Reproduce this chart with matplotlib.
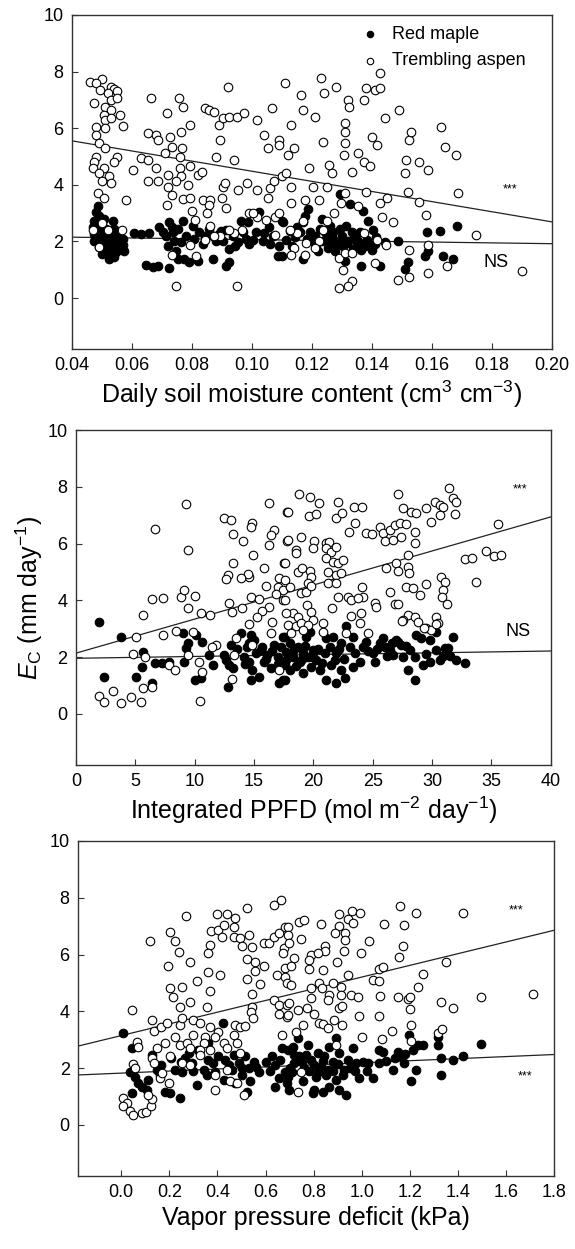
import numpy as np
import matplotlib
matplotlib.use("Agg")
import matplotlib.pyplot as plt

plt.rcParams['font.family'] = ['Liberation Sans', 'DejaVu Sans']
plt.rcParams['mathtext.fontset'] = 'custom'
plt.rcParams['mathtext.rm'] = 'Liberation Sans'
plt.rcParams['mathtext.it'] = 'Liberation Sans:italic'

# ---- panel 1: daily soil moisture content ----
sm_aspen = [
    (0.046, 7.65), (0.050, 7.73), (0.048, 7.6), (0.053, 7.47), (0.054, 7.4), (0.055, 7.3), (0.052, 7.24),
    (0.0495, 7.35), (0.053, 7.0), (0.055, 7.06), (0.0475, 6.88), (0.051, 6.76), (0.053, 6.65), (0.056, 6.47),
    (0.0507, 6.47), (0.051, 6.3), (0.053, 6.35), (0.057, 6.08), (0.048, 6.03), (0.051, 6.0), (0.048, 5.76),
    (0.049, 5.47), (0.051, 5.3), (0.055, 5.0), (0.048, 5.0), (0.0474, 4.82), (0.047, 4.59), (0.0507, 4.59),
    (0.049, 4.4), (0.0525, 4.3), (0.050, 4.12), (0.053, 4.06), (0.0486, 3.7), (0.0507, 3.53), (0.058, 3.47),
    (0.054, 4.82),
    (0.063, 4.94), (0.0605, 4.53), (0.0655, 4.88), (0.0655, 5.82), (0.068, 5.76), (0.0688, 5.59), (0.0655, 4.12),
    (0.068, 4.59), (0.0688, 4.12), (0.0665, 7.06), (0.0716, 6.53), (0.0728, 5.7), (0.071, 5.12), (0.0734, 5.35),
    (0.072, 4.35), (0.072, 3.94), (0.0734, 3.65), (0.0716, 3.3), (0.0758, 7.06), (0.077, 6.76), (0.0764, 5.88),
    (0.0767, 5.3), (0.076, 5.0), (0.076, 4.59), (0.0765, 4.3), (0.077, 3.5), (0.0747, 4.12), (0.0747, 0.43),
    (0.0795, 6.12), (0.0795, 4.65), (0.0788, 4.0), (0.0795, 3.53), (0.08, 3.06), (0.081, 2.76), (0.082, 4.35),
    (0.0832, 4.47), (0.0838, 3.47), (0.0845, 6.7), (0.0857, 6.65), (0.0875, 6.59), (0.086, 3.47), (0.0857, 3.3),
    (0.085, 3.0), (0.088, 5.0), (0.089, 6.12), (0.0895, 5.59), (0.09, 3.53), (0.092, 7.47), (0.0905, 6.35),
    (0.0925, 6.41), (0.0905, 3.94), (0.0912, 3.18), (0.091, 4.08), (0.095, 6.41), (0.094, 4.88), (0.0955, 3.82),
    (0.095, 0.43), (0.0975, 6.53), (0.0985, 4.06), (0.099, 3.0),
    (0.1017, 6.29), (0.1017, 3.82), (0.104, 5.76), (0.1052, 5.3), (0.1055, 3.53), (0.1067, 6.7), (0.106, 3.88),
    (0.1072, 4.12), (0.109, 5.59), (0.109, 5.41), (0.110, 4.3), (0.1109, 7.59), (0.1115, 4.41), (0.112, 5.06),
    (0.113, 6.12), (0.113, 3.94), (0.1139, 5.3), (0.113, 3.35), (0.1164, 7.18), (0.117, 6.65), (0.1177, 3.47),
    (0.119, 4.59), (0.1203, 3.94), (0.121, 6.41), (0.1223, 3.47), (0.123, 7.76), (0.1238, 5.5), (0.124, 7.24),
    (0.125, 3.94), (0.1256, 4.7), (0.1268, 4.41), (0.128, 7.47), (0.131, 6.18), (0.131, 5.88), (0.131, 5.47),
    (0.1308, 5.06), (0.132, 7.0), (0.1325, 6.76), (0.1335, 4.47), (0.1354, 5.12), (0.1373, 7.0), (0.138, 7.41),
    (0.1373, 4.82), (0.138, 3.76), (0.1392, 4.65), (0.14, 5.7), (0.141, 7.35), (0.1416, 5.41), (0.1428, 7.41),
    (0.1428, 7.94), (0.1445, 6.35), (0.1428, 3.35), (0.145, 3.53),
    (0.149, 6.65), (0.151, 4.41), (0.1515, 4.88), (0.152, 3.76), (0.1523, 5.59), (0.153, 5.88), (0.1556, 4.82),
    (0.1556, 3.41), (0.1588, 4.53), (0.158, 2.94), (0.163, 6.06), (0.1644, 5.35), (0.168, 5.06), (0.1686, 3.71),
    (0.1748, 2.24), (0.190, 0.94), (0.1523, 1.71), (0.1523, 0.76), (0.1487, 0.65), (0.1588, 1.88), (0.1588, 0.9),
    (0.165, 1.12),
    (0.1333, 0.59), (0.132, 0.43), (0.129, 0.35), (0.1305, 1.0), (0.129, 1.41), (0.131, 1.59), (0.1335, 1.59),
    (0.141, 1.24), (0.1373, 2.29), (0.1416, 2.06), (0.1447, 1.88), (0.1435, 2.88), (0.147, 2.67), (0.1354, 3.24),
    (0.131, 3.71), (0.1297, 3.35), (0.1275, 3.0), (0.125, 2.71), (0.1238, 2.41), (0.1225, 2.0), (0.121, 1.76),
    (0.118, 1.94), (0.1177, 1.53), (0.117, 2.71), (0.115, 2.29), (0.1139, 1.76), (0.113, 1.53), (0.1127, 2.41),
    (0.1077, 2.24), (0.1077, 2.88), (0.109, 3.0), (0.1047, 2.76), (0.1017, 2.88), (0.1004, 3.0), (0.0967, 2.41),
    (0.094, 2.29), (0.0925, 2.41), (0.0895, 2.18), (0.0875, 2.18), (0.086, 2.53), (0.0845, 2.06), (0.0815, 1.47),
    (0.0795, 1.88), (0.0734, 1.53), (0.0568, 2.41), (0.052, 2.41), (0.050, 2.65), (0.049, 1.82), (0.047, 2.41),
]
sm_maple = [
    (0.0486, 3.26), (0.048, 3.03), (0.0491, 2.91), (0.0474, 2.73), (0.0508, 2.79), (0.0536, 2.73), (0.0469, 2.5),
    (0.0491, 2.56), (0.0513, 2.44), (0.0541, 2.44), (0.0474, 2.26), (0.0497, 2.2), (0.0524, 2.26), (0.0474, 2.03),
    (0.0497, 1.97), (0.0519, 2.03), (0.0547, 2.03), (0.0569, 2.08), (0.0491, 1.79), (0.0513, 1.73), (0.0536, 1.85),
    (0.0558, 1.79), (0.0574, 1.67), (0.0502, 1.55), (0.0524, 1.5), (0.0547, 1.61), (0.0524, 1.38), (0.0541, 1.44),
    (0.0502, 2.35), (0.0528, 2.0), (0.0552, 2.15), (0.0515, 1.9), (0.0535, 1.6), (0.057, 1.88),
    (0.0608, 2.3), (0.063, 2.26), (0.0658, 2.3), (0.0647, 1.17), (0.0669, 1.08), (0.0686, 1.14), (0.0691, 2.5),
    (0.0724, 2.67), (0.0713, 2.2), (0.0719, 1.85), (0.0736, 2.32), (0.0741, 2.03), (0.0747, 1.67), (0.0763, 1.97),
    (0.0769, 2.73), (0.0752, 1.38), (0.0724, 1.05), (0.0774, 1.38), (0.0791, 1.26), (0.0802, 2.56), (0.0808, 2.08),
    (0.0824, 2.32), (0.0819, 1.32), (0.0836, 1.91), (0.0858, 2.44), (0.0869, 2.2), (0.0869, 1.38), (0.088, 2.03),
    (0.0897, 2.38), (0.0902, 2.03), (0.0913, 1.14), (0.0924, 1.26), (0.0924, 1.73), (0.0936, 2.2), (0.0952, 1.97),
    (0.0963, 2.73), (0.0969, 2.32), (0.0986, 2.67), (0.0991, 1.91), (0.1013, 2.32), (0.1024, 3.03), (0.1036, 2.03),
    (0.1058, 2.5), (0.1069, 2.2), (0.1086, 1.5), (0.1102, 2.67), (0.1091, 1.85),
    (0.078, 2.2), (0.0755, 2.45), (0.0845, 2.2), (0.089, 2.25), (0.0915, 2.4), (0.0945, 1.85), (0.098, 2.1),
    (0.1005, 2.05), (0.104, 2.3), (0.106, 1.9), (0.0735, 2.5), (0.0705, 2.35),
    (0.110, 2.73), (0.1099, 1.5), (0.1126, 2.38), (0.1149, 2.5), (0.1143, 2.14), (0.1171, 2.67), (0.1176, 2.91),
    (0.1171, 1.38), (0.1187, 3.14), (0.1193, 2.32), (0.1204, 2.03), (0.1215, 1.85), (0.1226, 2.44), (0.1232, 2.79),
    (0.1237, 2.03), (0.1249, 2.2), (0.126, 2.56), (0.1265, 1.91), (0.1271, 2.32), (0.1276, 1.67), (0.1293, 3.67),
    (0.1299, 2.2), (0.1304, 1.85), (0.1309, 1.32), (0.1315, 2.56), (0.1321, 2.03), (0.1326, 3.32), (0.1332, 2.32),
    (0.1337, 1.73), (0.1349, 1.91), (0.136, 2.32), (0.1365, 1.14), (0.1371, 3.09), (0.1376, 1.85), (0.1387, 2.73),
    (0.1393, 1.85), (0.1409, 1.91), (0.1426, 1.14), (0.1443, 1.97), (0.1488, 2.03), (0.1521, 1.26), (0.151, 1.02),
    (0.1576, 1.5), (0.1582, 2.32), (0.1587, 1.67), (0.1626, 2.38), (0.1637, 1.5), (0.1671, 1.38), (0.1682, 2.56),
    (0.121, 2.2), (0.1243, 2.35), (0.127, 2.1), (0.1295, 2.45), (0.1318, 1.95), (0.134, 2.15), (0.1355, 2.0),
    (0.1365, 1.7), (0.1383, 2.05), (0.140, 1.7), (0.1415, 2.15), (0.1402, 2.4), (0.1288, 1.95), (0.1255, 1.75),
    (0.122, 1.65), (0.1185, 2.1), (0.116, 2.35), (0.1135, 1.85), (0.1115, 2.05),
]

# ---- panel 2: integrated PPFD ----
ppfd_aspen = [
    (9.26, 7.39), (6.68, 6.5), (9.4, 5.77), (16.27, 7.44), (12.49, 6.89), (13.05, 6.83), (14.81, 6.71),
    (14.73, 6.6), (16.7, 6.48), (16.41, 6.3), (13.19, 6.34), (14.09, 6.1), (16.27, 5.95), (17.82, 7.1),
    (17.82, 6.09), (14.93, 5.6), (13.19, 5.31), (15.85, 5.15), (17.54, 5.33), (12.77, 4.89), (12.63, 4.74),
    (14.59, 4.84), (14.51, 4.92), (13.89, 4.78), (16.0, 4.51), (17.12, 4.78), (16.98, 4.48), (17.4, 4.37),
    (16.84, 4.21), (14.73, 4.13), (15.43, 4.04), (14.03, 3.72), (16.27, 3.78), (17.4, 4.01), (15.66, 3.64),
    (15.29, 3.43), (16.55, 3.25), (14.59, 3.17), (16.41, 2.86), (12.91, 3.9), (13.13, 3.6), (6.45, 4.04),
    (7.3, 4.07), (8.84, 4.13), (9.12, 4.37), (10.04, 4.15), (9.48, 3.72), (10.52, 3.57), (11.28, 3.49),
    (5.67, 3.49), (5.05, 2.72), (7.35, 2.78), (8.42, 2.93), (9.88, 2.9), (11.78, 2.43), (11.5, 2.37),
    (4.83, 2.11), (5.84, 2.02), (7.8, 1.73), (8.36, 1.55), (10.38, 1.84), (9.4, 2.08), (10.66, 1.47),
    (13.13, 1.22), (14.81, 2.43), (13.33, 2.08), (13.47, 2.66), (1.91, 0.63), (2.33, 0.43), (3.09, 0.79),
    (3.79, 0.38), (4.63, 0.61), (5.47, 0.43), (5.67, 0.9), (6.4, 0.96), (10.44, 0.47), (17.12, 1.55),
    (18.8, 7.75), (19.75, 7.65), (20.48, 7.44), (22.08, 7.46), (23.4, 7.3), (24.13, 7.28), (17.87, 7.1),
    (19.64, 6.97), (20.26, 7.03), (21.94, 6.89), (22.44, 7.07), (23.48, 6.74), (23.0, 6.42), (24.46, 6.36),
    (24.97, 6.34), (25.59, 6.57), (25.87, 6.36), (26.43, 6.48), (26.01, 6.1), (26.71, 6.13), (27.13, 7.75),
    (26.85, 6.65), (27.27, 6.71), (27.41, 6.24), (27.83, 6.69), (27.55, 7.24), (28.25, 7.1), (28.67, 7.07),
    (28.53, 6.42), (28.53, 6.01), (29.46, 7.24), (29.94, 6.77), (30.22, 7.48), (30.64, 7.36), (30.92, 7.3),
    (30.69, 7.0), (31.4, 7.95), (31.76, 7.59), (31.98, 7.48), (31.9, 7.03), (27.97, 5.6), (26.99, 5.31),
    (27.13, 5.05), (27.97, 5.16), (28.06, 4.98), (26.15, 5.13), (29.52, 4.58), (27.78, 4.48), (28.39, 4.42),
    (28.95, 4.19), (30.78, 4.84), (31.06, 4.66), (30.92, 4.37), (30.86, 4.13), (31.28, 3.87), (26.43, 4.31),
    (26.85, 3.87), (27.13, 3.87), (27.97, 3.49), (28.53, 3.4), (27.55, 3.31), (28.81, 3.25), (29.52, 3.02),
    (30.36, 3.4), (30.5, 3.19), (29.94, 2.96), (35.55, 6.69), (34.51, 5.74), (35.18, 5.56), (35.83, 5.6),
    (32.74, 5.45), (33.39, 5.5), (33.72, 4.64), (17.87, 6.13), (18.99, 6.24), (18.57, 5.77), (18.52, 5.66),
    (20.03, 6.1), (19.97, 5.83), (21.1, 6.03), (21.32, 6.07), (21.04, 5.83), (21.52, 5.72), (21.94, 5.89),
    (21.1, 5.48), (21.66, 5.36), (22.08, 5.31), (22.5, 5.42), (17.59, 5.33), (18.71, 5.01), (19.69, 5.05),
    (19.0, 5.13), (19.83, 4.84), (21.24, 5.01), (21.94, 4.89), (22.36, 4.95), (17.59, 4.72), (18.01, 4.48),
    (18.99, 4.25), (19.41, 4.31), (19.55, 4.6), (19.83, 4.51), (21.24, 4.6), (21.94, 4.6), (17.59, 4.01),
    (22.08, 4.13), (22.92, 4.13), (23.2, 4.01), (24.13, 4.48), (24.18, 4.11), (23.76, 4.07), (25.17, 3.9),
    (25.31, 3.78), (21.6, 3.74), (19.47, 3.84), (19.83, 3.6), (18.29, 3.57), (17.73, 3.54), (18.71, 3.43),
    (19.97, 3.31), (17.87, 3.13), (18.57, 3.08), (18.99, 3.19), (19.55, 3.13), (20.82, 3.19), (23.2, 3.45),
    (24.04, 3.54), (23.96, 3.19), (24.6, 2.86), (22.78, 2.84), (20.82, 2.9), (19.13, 2.96), (18.15, 2.84),
    (27.5, 3.27), (29.29, 3.02), (30.36, 3.17),
]
ppfd_maple = [
    (1.91, 3.25), (3.79, 2.72), (2.39, 1.31), (5.05, 1.31), (6.45, 1.08), (5.61, 2.19), (5.56, 1.67),
    (6.68, 1.81), (7.24, 1.81), (7.86, 1.84), (9.12, 1.84), (8.98, 2.84), (9.4, 2.49), (9.26, 2.31),
    (10.1, 2.78), (10.66, 2.55), (10.04, 1.2), (10.52, 1.26), (11.22, 2.08), (11.56, 1.73), (12.63, 1.9),
    (12.49, 2.08), (12.91, 1.73), (12.77, 0.96), (13.05, 2.43), (13.19, 1.61), (13.89, 2.84), (14.17, 2.02),
    (14.45, 2.37), (14.59, 1.84), (14.73, 2.78), (14.81, 1.55), (15.15, 2.14), (15.43, 1.31), (15.71, 2.37),
    (15.85, 1.84), (16.13, 2.08), (16.41, 1.61), (16.69, 2.43), (16.98, 2.02), (17.12, 1.08), (17.4, 1.2),
    (17.4, 2.72), (17.68, 1.9), (14.73, 1.2), (14.59, 2.49),
    (17.59, 2.72), (18.01, 2.49), (17.73, 2.19), (18.29, 2.02), (17.59, 1.73), (18.01, 1.55), (17.59, 1.2),
    (18.71, 2.37), (18.85, 1.84), (19.13, 2.14), (19.41, 2.72), (19.69, 2.9), (19.55, 2.02), (19.83, 1.67),
    (19.97, 2.25), (20.26, 1.9), (20.54, 1.55), (19.13, 1.43), (21.1, 2.66), (21.38, 2.37), (21.66, 2.72),
    (21.52, 1.73), (21.94, 2.14), (22.36, 2.49), (21.1, 1.2), (21.94, 1.08), (22.64, 1.26), (22.36, 1.55),
    (22.78, 3.08), (23.34, 2.72), (23.48, 2.14), (23.9, 1.84), (23.34, 1.67), (24.18, 2.37), (24.46, 2.55),
    (25.03, 2.14), (25.17, 1.84), (25.59, 2.49), (25.87, 2.66), (26.01, 2.37), (26.43, 2.25), (26.71, 2.08),
    (27.13, 2.55), (27.41, 2.43), (27.55, 2.02), (27.97, 1.55), (28.53, 1.2), (28.11, 2.25), (28.53, 2.02),
    (28.67, 2.78), (29.1, 2.66), (29.23, 1.73), (29.8, 2.6), (29.8, 1.84), (30.36, 2.9), (30.36, 2.25),
    (30.64, 1.9), (31.06, 2.31), (31.34, 2.31), (31.76, 2.72), (32.04, 1.9), (32.74, 1.78), (26.99, 2.6),
    (15.6, 2.25), (16.0, 1.95), (16.5, 2.2), (17.0, 1.75), (17.3, 2.35), (18.3, 2.2), (18.5, 1.7),
    (19.0, 1.95), (19.3, 2.4), (20.0, 2.0), (20.4, 2.3), (20.7, 1.8), (21.0, 2.15), (21.8, 1.9),
    (22.2, 2.3), (22.6, 1.95), (23.1, 2.35), (24.6, 2.2), (25.4, 2.3), (26.2, 2.05), (26.6, 2.5),
    (27.8, 2.4), (29.5, 2.1), (30.9, 2.05), (31.5, 2.05), (14.2, 1.75), (13.6, 2.3), (15.0, 2.6),
]

# ---- panel 3: vapor pressure deficit ----
vpd_aspen = [
    (0.665, 7.92), (0.633, 7.75), (0.522, 7.63), (0.397, 7.43), (0.439, 7.43), (0.474, 7.28), (0.268, 7.36),
    (0.203, 6.81), (0.12, 6.49), (0.224, 6.46), (0.238, 6.1), (0.374, 6.84), (0.404, 6.86), (0.425, 7.04),
    (0.418, 6.63), (0.467, 6.98), (0.467, 6.61), (0.495, 6.57), (0.529, 6.69), (0.501, 6.3), (0.543, 6.26),
    (0.592, 6.4), (0.613, 6.4), (0.633, 6.63), (0.654, 6.75), (0.682, 6.98), (0.675, 6.22), (0.671, 6.07),
    (0.37, 6.34), (0.36, 6.07), (0.286, 5.75), (0.194, 5.58), (0.362, 5.4), (0.411, 5.28), (0.314, 5.08),
    (0.522, 5.83), (0.554, 5.75), (0.592, 5.6), (0.557, 5.43), (0.522, 5.13), (0.578, 4.96), (0.647, 5.28),
    (0.682, 5.54), (0.682, 5.22), (0.689, 4.99), (0.252, 4.87), (0.203, 4.81), (0.217, 4.52), (0.286, 4.34),
    (0.245, 4.17), (0.356, 4.17), (0.543, 4.61), (0.543, 4.17), (0.54, 3.96), (0.546, 3.76), (0.633, 4.4),
    (0.654, 4.23), (0.689, 4.23), (0.657, 3.91), (0.689, 3.81), (0.37, 4.73), (0.046, 4.05), (0.127, 3.7),
    (0.134, 3.32), (0.166, 3.46), (0.189, 3.58), (0.245, 3.52), (0.252, 3.76), (0.3, 3.7), (0.328, 3.6),
    (0.37, 3.44), (0.404, 3.29), (0.39, 3.11), (0.349, 3.11), (0.3, 3.17), (0.224, 3.11), (0.182, 2.88),
    (0.148, 2.7), (0.245, 2.82), (0.272, 2.88), (0.286, 2.7), (0.342, 2.88), (0.328, 2.64), (0.37, 2.64),
    (0.425, 2.88), (0.439, 2.7), (0.474, 3.52), (0.495, 3.46), (0.515, 3.49), (0.467, 3.17), (0.481, 2.88),
    (0.495, 2.52), (0.064, 2.93), (0.071, 2.73), (0.05, 2.15), (0.057, 2.0), (0.127, 2.35), (0.134, 2.17),
    (0.162, 1.64), (0.169, 1.82), (0.199, 1.47), (0.203, 2.41), (0.252, 2.17), (0.286, 2.11), (0.328, 2.46),
    (0.39, 1.76), (0.39, 1.23), (0.439, 1.94), (0.453, 1.53), (0.481, 1.47), (0.509, 1.06), (0.668, 3.17),
    (0.009, 0.94), (0.023, 0.76), (0.009, 0.65), (0.037, 0.5), (0.05, 0.35), (0.085, 0.43), (0.102, 0.47),
    (0.124, 0.65), (0.127, 0.9), (0.113, 1.06),
    (1.159, 7.71), (1.226, 7.48), (1.42, 7.45), (0.907, 7.43), (0.959, 7.55), (0.993, 7.45), (0.941, 7.24),
    (0.962, 7.12), (0.74, 7.16), (0.761, 7.22), (0.83, 7.07), (0.907, 7.01), (1.094, 7.08), (1.177, 7.04),
    (0.89, 6.75), (0.932, 6.77), (0.929, 6.51), (0.692, 6.98), (0.692, 6.69), (0.698, 6.4), (0.747, 6.54),
    (0.848, 6.3), (0.848, 6.14), (0.927, 6.14), (1.029, 6.49), (1.17, 6.3), (1.153, 5.93), (0.997, 6.04),
    (0.895, 5.72), (0.837, 5.46), (0.789, 5.99), (0.816, 6.07), (0.779, 5.81), (0.719, 5.87), (0.705, 5.6),
    (0.782, 5.48), (0.705, 4.93), (0.823, 4.99), (0.834, 4.81), (0.879, 4.99), (0.913, 4.87), (0.941, 5.28),
    (0.789, 4.81), (0.789, 4.46), (0.865, 4.58), (0.858, 4.4), (0.913, 4.58), (0.955, 4.58), (0.983, 4.52),
    (0.904, 4.11), (0.918, 4.19), (0.698, 4.28), (0.692, 3.87), (0.733, 4.05), (0.771, 4.11), (0.802, 3.91),
    (0.823, 3.6), (0.837, 3.56), (0.858, 3.4), (0.886, 3.7), (0.918, 3.52), (0.754, 3.52), (0.726, 3.29),
    (0.987, 3.84), (1.073, 3.84), (1.076, 4.54), (1.045, 5.11), (1.07, 5.08), (1.07, 5.48), (1.09, 5.55),
    (1.001, 3.11), (1.084, 3.02), (1.126, 3.32), (1.149, 4.52), (1.191, 4.42), (1.201, 4.5), (1.201, 4.07),
    (1.205, 3.52), (1.233, 4.85), (1.256, 5.32), (1.33, 4.34), (1.316, 3.25), (1.334, 3.37), (1.378, 4.11),
    (1.35, 5.72), (1.496, 4.52), (0.733, 1.17), (0.747, 1.88), (0.893, 2.82), (1.205, 2.97), (1.711, 4.62),
]
vpd_maple = [
    (0.009, 3.23), (0.046, 2.7), (0.037, 1.88), (0.057, 1.7), (0.071, 1.47), (0.085, 1.35), (0.106, 1.23),
    (0.044, 1.12), (0.127, 2.46), (0.148, 1.94), (0.166, 2.11), (0.182, 1.17), (0.203, 1.12), (0.245, 0.94),
    (0.207, 2.35), (0.224, 1.94), (0.252, 1.88), (0.266, 2.35), (0.28, 2.52), (0.293, 2.17), (0.314, 1.41),
    (0.321, 2.64), (0.342, 1.94), (0.356, 1.76), (0.362, 2.88), (0.383, 2.17), (0.39, 1.88), (0.404, 2.41),
    (0.422, 3.58), (0.425, 1.58), (0.446, 2.11), (0.467, 2.46), (0.474, 1.47), (0.488, 2.17), (0.501, 1.76),
    (0.515, 2.41), (0.529, 2.0), (0.536, 1.53), (0.55, 2.23), (0.571, 1.88), (0.522, 1.17), (0.626, 2.41),
    (0.64, 2.11), (0.654, 1.64), (0.668, 2.7), (0.682, 1.88), (0.689, 1.47), (0.64, 1.35),
    (0.692, 2.64), (0.692, 1.7), (0.698, 1.23), (0.719, 2.17), (0.733, 3.05), (0.74, 2.41), (0.754, 1.53),
    (0.761, 2.0), (0.775, 2.82), (0.789, 2.29), (0.796, 1.12), (0.809, 1.7), (0.816, 2.52), (0.83, 2.05),
    (0.837, 1.17), (0.851, 1.76), (0.865, 2.76), (0.879, 2.23), (0.893, 3.05), (0.893, 1.58), (0.907, 2.52),
    (0.907, 1.23), (0.927, 1.94), (0.934, 1.06), (0.941, 2.29), (0.962, 2.7), (0.976, 2.17), (0.99, 1.64),
    (1.004, 2.23), (1.025, 2.17), (1.048, 1.64), (1.073, 2.64), (1.087, 2.58), (1.073, 2.17), (1.129, 1.94),
    (1.149, 2.58), (1.163, 2.41), (1.177, 2.17), (1.198, 3.17), (1.205, 1.56), (1.212, 2.64), (1.226, 1.94),
    (1.232, 2.82), (1.253, 2.82), (1.316, 2.82), (1.316, 3.11), (1.33, 2.35), (1.33, 1.76), (1.378, 2.29),
    (1.42, 2.41), (1.496, 2.84), (0.712, 2.76), (0.768, 2.46), (0.844, 2.41), (0.865, 1.35), (0.802, 1.23),
    (0.6, 2.2), (0.62, 1.9), (0.66, 2.3), (0.7, 2.0), (0.71, 1.85), (0.72, 2.45), (0.75, 2.2), (0.78, 1.9),
    (0.8, 2.1), (0.82, 1.85), (0.84, 2.25), (0.86, 1.95), (0.88, 1.9), (0.9, 2.15), (0.92, 1.75), (0.95, 2.0),
    (0.97, 1.9), (0.43, 2.3), (0.46, 1.95), (0.5, 2.0), (0.56, 2.05), (0.3, 1.9), (0.36, 2.3), (0.25, 2.2),
    (0.16, 1.75), (0.11, 1.6), (1.1, 2.25), (1.14, 2.35), (1.18, 2.5), (1.02, 1.9),
]

# regression lines: (intercept, slope) for aspen and maple
fit_aspen = [(6.27, -17.9), (2.14, 0.12), (3.147, 2.06)]
fit_maple = [(2.2075, -1.44), (1.96, 0.0064), (1.825, 0.364)]

xlims = [(0.04, 0.20), (0, 40), (-0.18, 1.8)]
xticks = [np.arange(0.04, 0.2001, 0.02), np.arange(0, 41, 5), np.arange(0, 1.801, 0.2)]
xfmt = ['{:.2f}', '{:.0f}', '{:.1f}']
xlabels = ['Daily soil moisture content (cm$^{3}$ cm$^{-3}$)',
           'Integrated PPFD (mol m$^{-2}$ day$^{-1}$)',
           'Vapor pressure deficit (kPa)']
aspen_sets = [sm_aspen, ppfd_aspen, vpd_aspen]
maple_sets = [sm_maple, ppfd_maple, vpd_maple]
# significance labels: (x, y, text, size)
sig_labels = [
    [(0.186, 3.85, '***', 9), (0.1815, 1.25, 'NS', 13)],
    [(37.4, 7.9, '***', 9), (37.2, 2.9, 'NS', 13)],
    [(1.643, 7.55, '***', 9), (1.68, 1.7, '***', 9)],
]

boxes = [(0.125, 0.7206, 0.835, 0.2674), (0.132, 0.3875, 0.826, 0.2682), (0.1357, 0.0584, 0.828, 0.2683)]

fig = plt.figure(figsize=(5.75, 12.49), dpi=100)
frame_col = '#333333'

for i in range(3):
    ax = fig.add_axes(boxes[i])
    mx, my = zip(*maple_sets[i])
    axp, ayp = zip(*aspen_sets[i])
    ax.scatter(mx, my, s=38, c='black', edgecolors='black', linewidths=0.8, zorder=3, label='Red maple')
    ax.scatter(axp, ayp, s=38, facecolors='white', edgecolors='black', linewidths=0.8, zorder=4,
               label='Trembling aspen')
    xs = np.array(xlims[i])
    for b0, b1 in (fit_aspen[i], fit_maple[i]):
        ax.plot(xs, b0 + b1 * xs, color='#222222', lw=0.9, zorder=2)
    ax.set_xlim(*xlims[i])
    ax.set_ylim(-1.8, 10)
    ax.set_yticks([0, 2, 4, 6, 8, 10])
    ax.set_xticks(xticks[i])
    ax.set_xticklabels([xfmt[i].format(v) for v in xticks[i]])
    ax.tick_params(direction='in', length=4, width=0.8, labelsize=13, color=frame_col, pad=6)
    for sp in ax.spines.values():
        sp.set_color(frame_col)
        sp.set_linewidth(1.0)
    ax.set_xlabel(xlabels[i], fontsize=18, labelpad=3)
    for tx, ty, t, fs in sig_labels[i]:
        ax.text(tx, ty, t, fontsize=fs, ha='center', va='center')
    if i == 0:
        ax.legend(loc='upper left', bbox_to_anchor=(0.583, 0.967), frameon=False, fontsize=13,
                  handlelength=2.0, handletextpad=0.25, borderaxespad=0, borderpad=0,
                  labelspacing=0.52, markerscale=0.75, scatterpoints=1)
    if i == 1:
        ax.set_ylabel(r'$E_{\mathrm{C}}$ (mm day$^{-1}$)', fontsize=18, labelpad=2)

fig.savefig('out.png', dpi=100)
